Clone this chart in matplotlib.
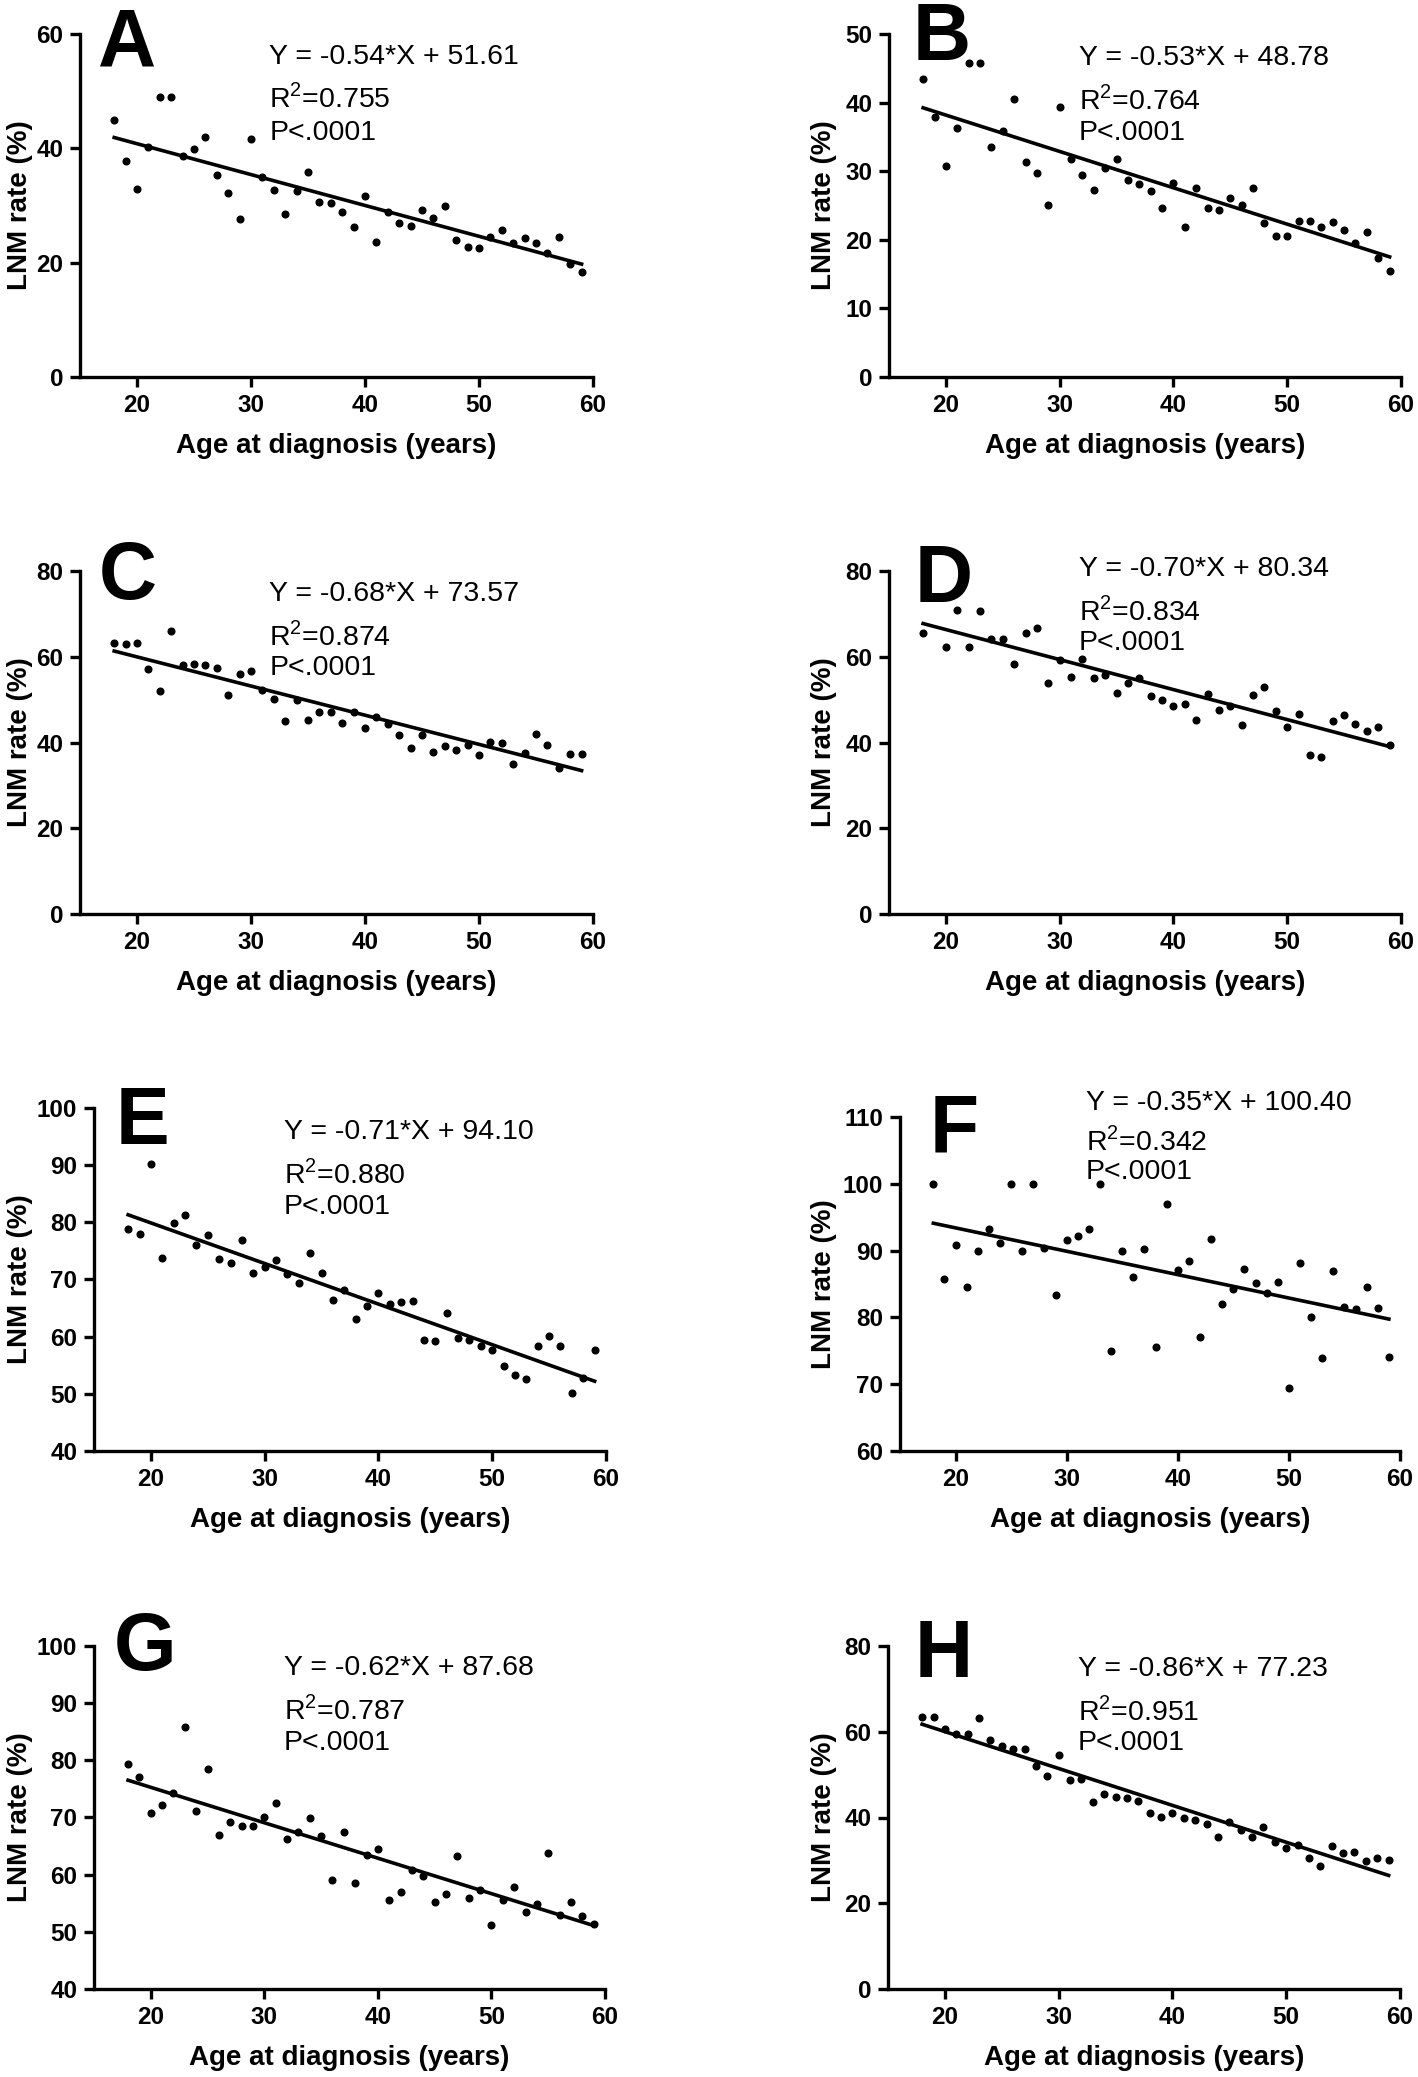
import matplotlib
matplotlib.use("Agg")
import matplotlib.pyplot as plt

plt.rcParams['font.family'] = ['Liberation Sans', 'DejaVu Sans']
plt.rcParams['mathtext.fontset'] = 'custom'
plt.rcParams['mathtext.rm'] = 'Liberation Sans'

# ages at diagnosis (panel D has no point at 19)
age = list(range(18, 60))
age_d = [18] + list(range(20, 60))

rate_a = [44.9, 37.7, 32.9, 40.2, 49.0, 49.0, 38.6, 39.8, 42.0, 35.4, 32.2, 27.6, 41.7, 34.9,
          32.7, 28.6, 32.5, 35.9, 30.6, 30.5, 28.8, 26.2, 31.6, 23.7, 28.9, 26.9, 26.5, 29.3,
          27.8, 29.9, 24.0, 22.8, 22.6, 24.5, 25.8, 23.5, 24.4, 23.5, 21.7, 24.5, 19.8, 18.4]
rate_b = [43.5, 37.9, 30.7, 36.3, 45.8, 45.8, 33.6, 35.8, 40.5, 31.4, 29.7, 25.1, 39.4, 31.8,
          29.5, 27.3, 30.4, 31.8, 28.7, 28.1, 27.1, 24.7, 28.3, 21.8, 27.5, 24.6, 24.3, 26.1,
          25.1, 27.5, 22.4, 20.6, 20.6, 22.8, 22.7, 21.8, 22.6, 21.4, 19.6, 21.2, 17.3, 15.5]
rate_c = [63.3, 63.0, 63.3, 57.2, 52.1, 66.1, 58.1, 58.3, 58.1, 57.4, 51.0, 56.0, 56.6, 52.2,
          50.2, 44.9, 50.0, 45.2, 47.2, 47.2, 44.6, 47.0, 43.3, 46.0, 44.4, 41.8, 38.8, 41.8,
          37.8, 39.2, 38.2, 39.5, 37.0, 40.1, 39.8, 35.0, 37.6, 42.0, 39.4, 34.0, 37.4, 37.4]
rate_d = [65.6, 62.3, 70.8, 62.3, 70.6, 64.1, 64.1, 58.2, 65.6, 66.6, 53.9, 59.3, 55.2,
          59.4, 55.0, 55.8, 51.6, 53.9, 55.1, 50.9, 49.8, 48.4, 49.0, 45.3, 51.2, 47.6, 48.4,
          44.1, 51.1, 53.0, 47.3, 43.5, 46.6, 37.0, 36.7, 44.9, 46.3, 44.2, 42.7, 43.5, 39.4]
rate_e = [78.9, 77.9, 90.2, 73.7, 79.9, 81.2, 76.1, 77.8, 73.5, 72.8, 76.9, 71.1, 72.2, 73.4,
          71.0, 69.4, 74.7, 71.2, 66.4, 68.2, 63.1, 65.3, 67.7, 65.7, 66.0, 66.2, 59.4, 59.3,
          64.2, 59.8, 59.4, 58.4, 57.7, 54.9, 53.3, 52.6, 58.3, 60.2, 58.4, 50.2, 52.7, 57.7]
rate_f = [100.0, 85.7, 90.8, 84.5, 90.0, 93.2, 91.2, 100.0, 90.0, 100.0, 90.4, 83.3, 91.6, 92.2,
          93.2, 100.0, 74.9, 90.0, 86.0, 90.2, 75.5, 97.0, 87.1, 88.4, 77.1, 91.7, 82.0, 84.2,
          87.2, 85.2, 83.7, 85.3, 69.4, 88.2, 80.0, 73.9, 86.9, 81.6, 81.3, 84.5, 81.4, 74.0]
rate_g = [79.4, 77.0, 70.8, 72.2, 74.2, 85.9, 71.2, 78.4, 66.9, 69.2, 68.5, 68.6, 70.1, 72.5,
          66.2, 67.5, 69.9, 66.8, 59.0, 67.4, 58.6, 63.5, 64.5, 55.5, 56.9, 60.8, 59.8, 55.3,
          56.6, 63.3, 56.0, 57.3, 51.2, 55.5, 57.9, 53.4, 54.9, 63.8, 53.0, 55.2, 52.7, 51.3]
rate_h = [63.4, 63.4, 60.6, 59.5, 59.5, 63.2, 58.0, 56.6, 55.9, 56.0, 52.0, 49.7, 54.5, 48.7,
          48.9, 43.5, 45.4, 44.8, 44.6, 43.8, 41.0, 40.1, 41.1, 39.8, 39.4, 38.5, 35.5, 39.0,
          37.0, 35.4, 37.8, 34.3, 32.8, 33.6, 30.5, 28.8, 33.4, 31.8, 32.0, 29.8, 30.5, 30.0]

letters = ['A', 'B', 'C', 'D', 'E', 'F', 'G', 'H']
ages = [age, age, age, age_d, age, age, age, age]
rates = [rate_a, rate_b, rate_c, rate_d, rate_e, rate_f, rate_g, rate_h]
slopes = [-0.54, -0.53, -0.68, -0.70, -0.71, -0.35, -0.62, -0.86]
intercepts = [51.61, 48.78, 73.57, 80.34, 94.10, 100.40, 87.68, 77.23]
r2 = ['0.755', '0.764', '0.874', '0.834', '0.880', '0.342', '0.787', '0.951']
ylims = [(0, 60), (0, 50), (0, 80), (0, 80), (40, 100), (60, 110), (40, 100), (0, 80)]
ysteps = [20, 10, 20, 20, 10, 10, 10, 20]

# layout in pixels: left, top, width, height
W, H = 1418, 2077
rects = [(80, 34, 513, 343), (889, 34, 512, 343),
         (80, 571, 513, 343), (889, 571, 512, 343),
         (94, 1108, 512, 343), (900, 1117, 500, 334),
         (94, 1646, 511, 343), (888, 1646, 512, 343)]
letter_off = [(18, 31), (24, 26), (19, 28), (26, 31), (22, 36), (30, 36), (20, 24), (27, 31)]
# equation text: x, then y of the three lines (data coords)
eq_pos = [(31.6, 56.7, 49.4, 43.4), (31.7, 47.1, 40.9, 36.2), (31.6, 75.5, 65.7, 58.2),
          (31.7, 81.3, 71.6, 64.1), (31.7, 96.5, 89.1, 83.4), (31.7, 112.7, 106.9, 102.4),
          (31.7, 96.8, 89.4, 83.7), (31.7, 75.6, 65.8, 58.4)]

fig = plt.figure(figsize=(W / 100, H / 100), dpi=100)

for i in range(8):
    l, t, w, h = rects[i]
    ax = fig.add_axes([l / W, 1 - (t + h) / H, w / W, h / H])
    ax.plot(ages[i], rates[i], 'o', color='black', markersize=4.8, clip_on=False)
    xs = [18, 59]
    ax.plot(xs, [slopes[i] * x + intercepts[i] for x in xs], color='black', lw=2.6)

    ax.set_xlim(15, 60)
    ax.set_ylim(*ylims[i])
    ax.set_xticks([20, 30, 40, 50, 60])
    lo, hi = ylims[i]
    ax.set_yticks(list(range(lo, hi + 1, ysteps[i])))
    for s in ['top', 'right']:
        ax.spines[s].set_visible(False)
    for s in ['left', 'bottom']:
        ax.spines[s].set_linewidth(2.4)
    ax.tick_params(direction='out', length=7, width=2.4, labelsize=17.5, pad=5)
    for lab in ax.get_xticklabels() + ax.get_yticklabels():
        lab.set_fontweight('bold')

    ex, ey1, ey2, ey3 = eq_pos[i]
    lines = ['Y = %.2f*X + %.2f' % (slopes[i], intercepts[i]),
             r'R$^{\mathrm{2}}$=' + r2[i], 'P<.0001']
    for txt, ey in zip(lines, [ey1, ey2, ey3]):
        ax.annotate(txt, xy=(ex, ey), xytext=(0, -4), textcoords='offset pixels',
                    fontsize=20.5, va='center', ha='left', annotation_clip=False)

    dx, dy = letter_off[i]
    ax.annotate(letters[i], xy=(0, 1), xycoords='axes fraction', xytext=(dx, -dy),
                textcoords='offset pixels', fontsize=58, fontweight='bold',
                ha='left', va='baseline', annotation_clip=False)

    # axis titles
    ylx = 20 if i % 2 == 0 else 824
    fig.text(ylx / W, 1 - (t + h / 2) / H, 'LNM rate (%)', rotation=90, fontsize=20,
             fontweight='bold', ha='center', va='center')
    fig.text((l + w / 2) / W, 1 - (t + h + 69) / H, 'Age at diagnosis (years)',
             fontsize=20, fontweight='bold', ha='center', va='center')

fig.savefig('out.png', dpi=100)
